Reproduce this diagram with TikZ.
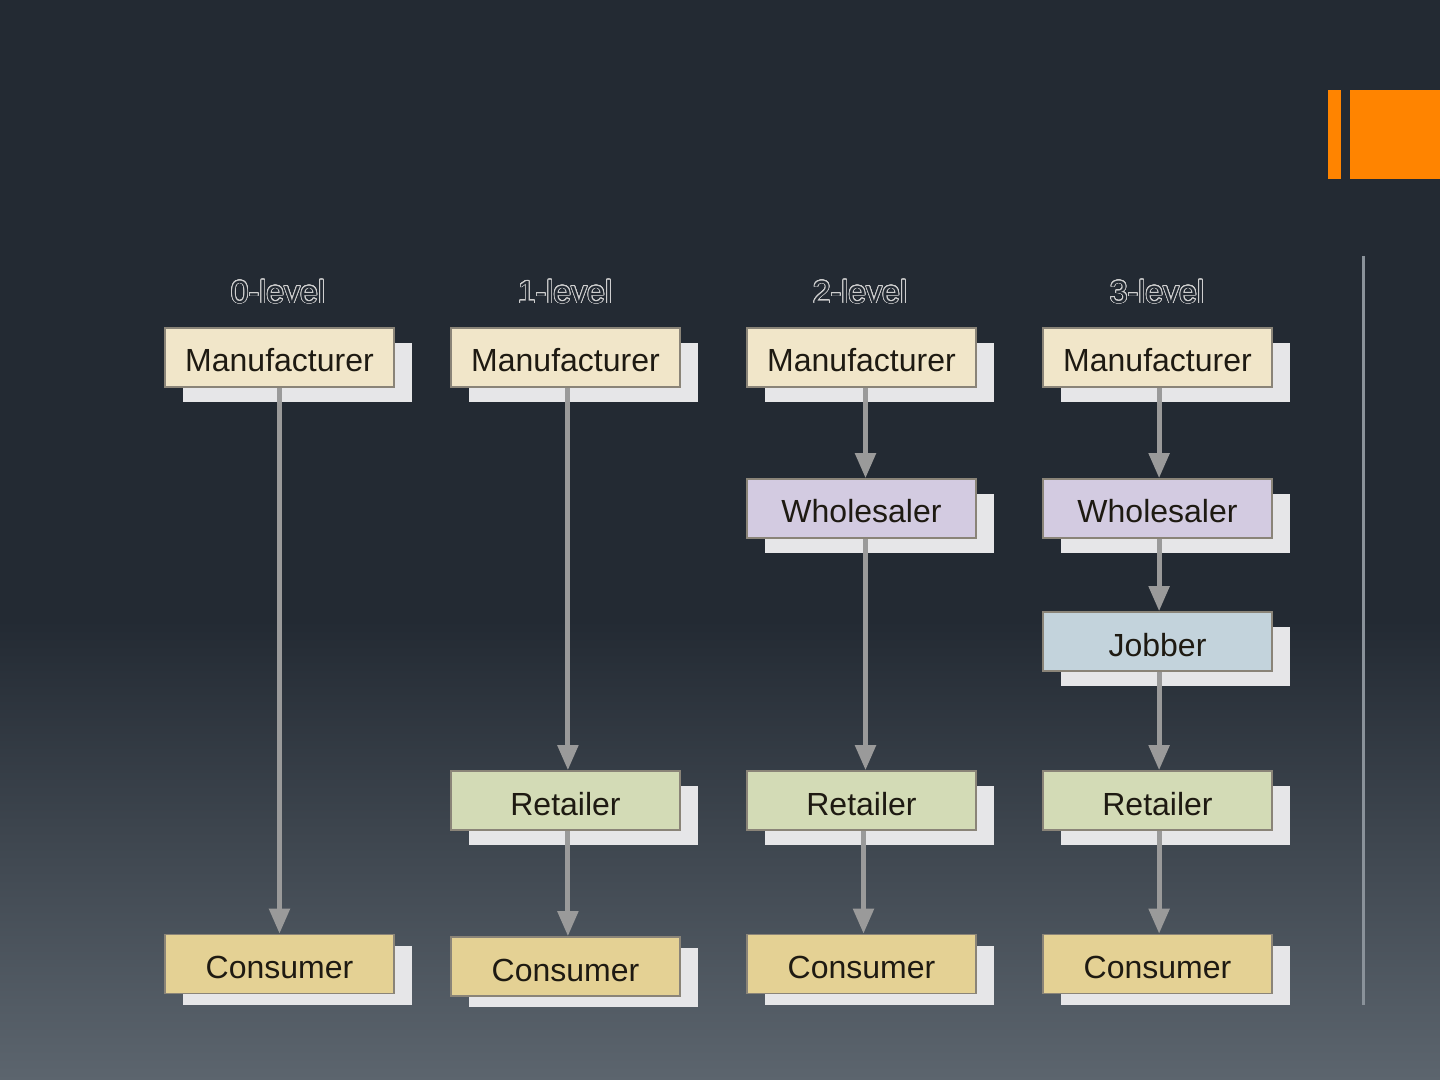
\documentclass[tikz,border=0pt]{standalone}
\usepackage{fontspec}
\setmainfont{Liberation Sans}
\usepackage{contour}
\contourlength{0.4pt}
\contournumber{24}
\usetikzlibrary{shadows,arrows.meta}
\definecolor{bgtop}{HTML}{232A33}
\definecolor{bgbot}{HTML}{5C656E}
\definecolor{orng}{HTML}{FF8400}
\definecolor{vline}{HTML}{8A929A}
\definecolor{shad}{HTML}{E6E6E8}
\definecolor{edgec}{HTML}{8A8478}
\definecolor{txt}{HTML}{1E1A12}
\definecolor{manc}{HTML}{F1E6C9}
\definecolor{whoc}{HTML}{D3CBE1}
\definecolor{jobc}{HTML}{C3D3DC}
\definecolor{retc}{HTML}{D3DBB6}
\definecolor{conc}{HTML}{E4D194}
\definecolor{arrc}{HTML}{9A9A9A}
\definecolor{lvl}{HTML}{D0D0D0}
\begin{document}
\begin{tikzpicture}[x=0.5pt,y=-0.5pt,
  box/.style={draw=edgec, line width=0.8pt, minimum width=114.5pt, minimum height=29.5pt,
    inner sep=0pt, text height=14.5pt, text depth=0pt, text=txt, font=\fontsize{16}{18}\selectfont,
    general shadow={fill=shad, shadow xshift=9pt, shadow yshift=-7.5pt}},
  man/.style={box, fill=manc},
  who/.style={box, fill=whoc},
  job/.style={box, fill=jobc},
  ret/.style={box, fill=retc},
  con/.style={draw=edgec, line width=0.8pt, minimum width=114.5pt, minimum height=29.5pt,
    inner sep=0pt, text height=14.5pt, text depth=0pt, text=txt, font=\fontsize{16}{18}\selectfont,
    general shadow={fill=shad, shadow xshift=9pt, shadow yshift=-5.5pt}, fill=conc},
  lvlbl/.style={font=\fontsize{16}{18}\selectfont, text=bgtop},
  arr/.style={draw=arrc, line width=2.5pt, -{Triangle[width=10pt,length=12.5pt]}}
]
\useasboundingbox (0,0) rectangle (1440,1080);
\fill[bgtop] (0,0) rectangle (1440,1080);
\shade[top color=bgtop, bottom color=bgbot] (0,620) rectangle (1440,1080);
% orange decoration
\fill[orng] (1328,90) rectangle (1341,179);
\fill[orng] (1350,90) rectangle (1440,179);
% vertical line
\fill[vline] (1362,256) rectangle (1365,1005);

% level labels
\node[lvlbl] (l0) at (278,292) {\contour{lvl}{0-level}};
\node[lvlbl] (l1) at (565,292) {\contour{lvl}{1-level}};
\node[lvlbl] (l2) at (860,292) {\contour{lvl}{2-level}};
\node[lvlbl] (l3) at (1157,292) {\contour{lvl}{3-level}};

% column 1
\node[man] (m1) at (279.5,357.5) {Manufacturer};
\node[con] (c1) at (279.5,964) {Consumer};
% column 2
\node[man] (m2) at (565.5,357.5) {Manufacturer};
\node[ret] (r2) at (565.5,800.5) {Retailer};
\node[con] (c2) at (565.5,966.5) {Consumer};
% column 3
\node[man] (m3) at (861.5,357.5) {Manufacturer};
\node[who] (w3) at (861.5,508.5) {Wholesaler};
\node[ret] (r3) at (861.5,800.5) {Retailer};
\node[con] (c3) at (861.5,964) {Consumer};
% column 4
\node[man] (m4) at (1157.5,357.5) {Manufacturer};
\node[who] (w4) at (1157.5,508.5) {Wholesaler};
\node[job] (j4) at (1157.5,641.5) {Jobber};
\node[ret] (r4) at (1157.5,800.5) {Retailer};
\node[con] (c4) at (1157.5,964) {Consumer};

% connectors
\draw[arr] (m1.south) -- (c1.north);
\draw[arr] ([xshift=1.2pt]m2.south) -- ([xshift=1.2pt]r2.north);
\draw[arr] ([xshift=1.2pt]r2.south) -- ([xshift=1.2pt]c2.north);
\draw[arr] ([xshift=2pt]m3.south) -- ([xshift=2pt]w3.north);
\draw[arr] ([xshift=2pt]w3.south) -- ([xshift=2pt]r3.north);
\draw[arr] ([xshift=1pt]r3.south) -- ([xshift=1pt]c3.north);
\draw[arr] ([xshift=0.8pt]m4.south) -- ([xshift=0.8pt]w4.north);
\draw[arr] ([xshift=0.8pt]w4.south) -- ([xshift=0.8pt]j4.north);
\draw[arr] ([xshift=0.8pt]j4.south) -- ([xshift=0.8pt]r4.north);
\draw[arr] ([xshift=0.8pt]r4.south) -- ([xshift=0.8pt]c4.north);
\end{tikzpicture}
\end{document}
